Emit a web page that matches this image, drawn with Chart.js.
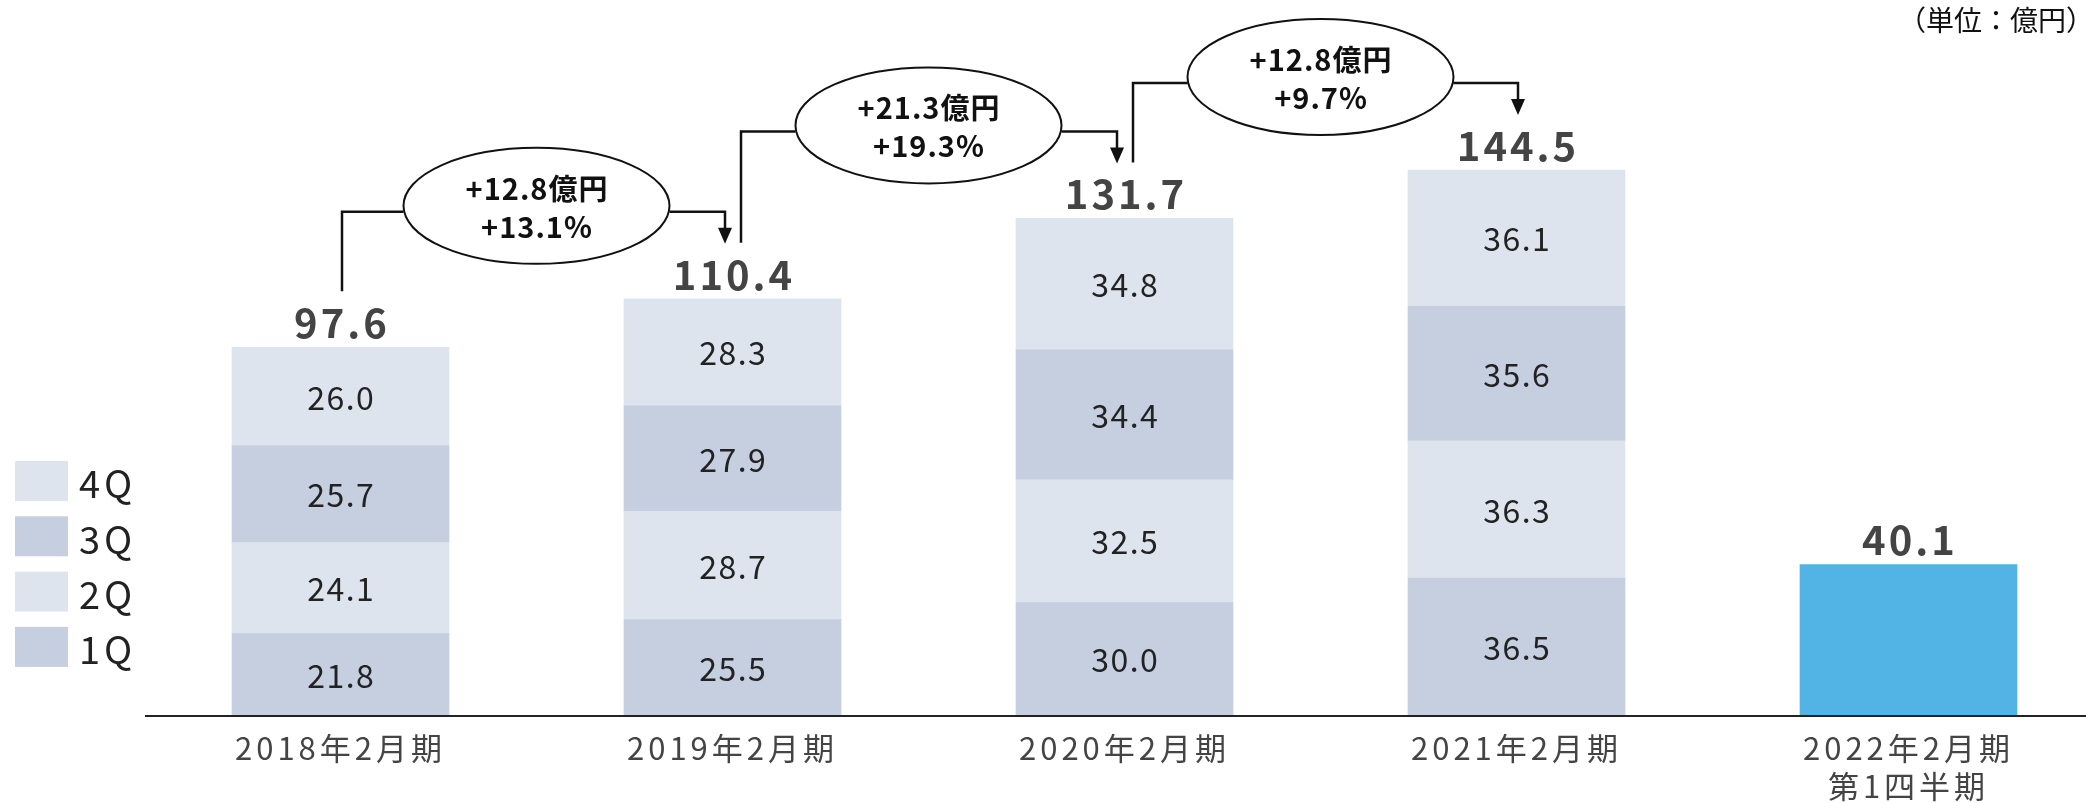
<!DOCTYPE html>
<html>
<head>
<meta charset="utf-8">
<script src="https://cdn.jsdelivr.net/npm/chart.js@4.4.1/dist/chart.umd.min.js"></script>
<style>
  html, body { margin: 0; padding: 0; background: #fff; }
</style>
</head>
<body>
<canvas id="sales" width="2086" height="803"></canvas>
<script>
// 売上高の推移（単位：億円）
const categories = [['2018年2月期'], ['2019年2月期'], ['2020年2月期'], ['2021年2月期'], ['2022年2月期', '第1四半期']]
const q1 = [21.8, 25.5, 30.0, 36.5, null]
const q2 = [24.1, 28.7, 32.5, 36.3, null]
const q3 = [25.7, 27.9, 34.4, 35.6, null]
const q4 = [26.0, 28.3, 34.8, 36.1, null]
const fy22q1 = [null, null, null, null, 40.1]
const totals = [97.6, 110.4, 131.7, 144.5, 40.1]
const growthAmount = ['+12.8億円', '+21.3億円', '+12.8億円']
const growthRate = ['+13.1%', '+19.3%', '+9.7%']
const unitLabel = '（単位：億円）'

const FONT = '"Noto Sans CJK JP", "Noto Sans", sans-serif'
const DARK = '#c5cfe0'
const LIGHT = '#dee4ee'

// centred text with extra tracking, shifted back by half the trailing space
function spaced(ctx, text, x, y, ls) {
    ctx.letterSpacing = ls + 'px'
    ctx.fillText(text, x + ls / 2, y)
}

const labelsPlugin = {
    id: 'labels',
    beforeDraw(chart) {
        // wider tracking for the category labels drawn by the x axis
        chart.ctx.letterSpacing = '4px'
    },
    afterDatasetsDraw(chart) {
        const ctx = chart.ctx
        const x = chart.scales.x
        const y = chart.scales.y
        ctx.save()

        // axis line
        const y0 = y.getPixelForValue(0)
        ctx.strokeStyle = '#222'
        ctx.lineWidth = 2
        ctx.beginPath()
        ctx.moveTo(145, y0)
        ctx.lineTo(chart.width, y0)
        ctx.stroke()

        // values inside the quarter segments
        ctx.textAlign = 'center'
        ctx.textBaseline = 'middle'
        ctx.font = '32px ' + FONT
        ctx.fillStyle = '#222'
        for (let d = 0; d < 4; d++) {
            const meta = chart.getDatasetMeta(d)
            meta.data.forEach((bar, i) => {
                const v = chart.data.datasets[d].data[i]
                if (v == null) return
                spaced(ctx, v.toFixed(1), bar.x, (bar.y + bar.base) / 2 + 1, 1.5)
            })
        }

        // totals above bars
        ctx.font = 'bold 40px ' + FONT
        ctx.fillStyle = '#444'
        ctx.textBaseline = 'alphabetic'
        totals.forEach((t, i) => {
            spaced(ctx, t.toFixed(1), x.getPixelForValue(i), y.getPixelForValue(t) - 9, 3)
        })

        // growth connectors
        ctx.strokeStyle = '#111'
        ctx.fillStyle = '#111'
        ctx.lineWidth = 2.5
        for (let i = 0; i < growthAmount.length; i++) {
            const topA = y.getPixelForValue(totals[i])
            const topB = y.getPixelForValue(totals[i + 1])
            const xa = x.getPixelForValue(i) + (i === 0 ? 1.5 : 8.5)
            const xb = x.getPixelForValue(i + 1) + (i === growthAmount.length - 1 ? 1.5 : -7.5)
            const level = topB - 87
            const tip = topB - 55
            const cx = (x.getPixelForValue(i) + x.getPixelForValue(i + 1)) / 2
            const cy = level - 6
            const rx = 133, ry = 58

            ctx.beginPath()
            ctx.moveTo(xa, topA - 56)
            ctx.lineTo(xa, level)
            ctx.lineTo(cx - rx, level)
            ctx.moveTo(cx + rx, level)
            ctx.lineTo(xb, level)
            ctx.lineTo(xb, tip - 14)
            ctx.stroke()

            ctx.beginPath()
            ctx.moveTo(xb - 7, tip - 16)
            ctx.lineTo(xb + 7, tip - 16)
            ctx.lineTo(xb, tip)
            ctx.closePath()
            ctx.fill()

            ctx.beginPath()
            ctx.fillStyle = '#fff'
            ctx.ellipse(cx, cy, rx, ry, 0, 0, Math.PI * 2)
            ctx.fill()
            ctx.lineWidth = 2
            ctx.stroke()
            ctx.lineWidth = 2.5

            ctx.fillStyle = '#111'
            ctx.font = 'bold 29px ' + FONT
            ctx.textBaseline = 'middle'
            spaced(ctx, growthAmount[i], cx, cy - 17, 1)
            spaced(ctx, growthRate[i], cx, cy + 21, 1)
        }

        // legend, 4Q on top
        ctx.textAlign = 'left'
        ctx.font = '38px ' + FONT
        ctx.letterSpacing = '4px'
        const legendSets = [3, 2, 1, 0]
        legendSets.forEach((d, k) => {
            const ds = chart.data.datasets[d]
            const top = 461 + k * 55.3
            ctx.fillStyle = ds.backgroundColor
            ctx.fillRect(15, top, 53, 40)
            ctx.fillStyle = '#222'
            ctx.fillText(ds.label, 79, top + 23)
        })

        // unit
        ctx.letterSpacing = '0px'
        ctx.textAlign = 'right'
        ctx.textBaseline = 'top'
        ctx.font = '28px ' + FONT
        ctx.fillStyle = '#111'
        ctx.fillText(unitLabel, chart.width + 8, 6)

        ctx.restore()
    }
}

const ctx = document.getElementById('sales')
const chart = new Chart(ctx, {
    type: 'bar',
    data: {
        labels: categories,
        datasets: [
            { label: '1Q', data: q1, backgroundColor: DARK },
            { label: '2Q', data: q2, backgroundColor: LIGHT },
            { label: '3Q', data: q3, backgroundColor: DARK },
            { label: '4Q', data: q4, backgroundColor: LIGHT },
            { label: '2022年2月期第1四半期', data: fy22q1, backgroundColor: '#52b3e5' }
        ]
    },
    options: {
        responsive: false,
        animation: false,
        devicePixelRatio: 1,
        layout: {
            padding: { left: 340.5, right: 177.5, top: 17, bottom: 0 }
        },
        datasets: {
            bar: { barThickness: 217, clip: false, borderWidth: 0 }
        },
        plugins: {
            legend: { display: false },
            tooltip: { enabled: false }
        },
        scales: {
            x: {
                stacked: true,
                offset: false,
                grid: { display: false, drawTicks: false },
                border: { display: false },
                ticks: {
                    color: '#444',
                    font: { size: 31, family: FONT },
                    padding: 14,
                    maxRotation: 0,
                    autoSkip: false
                },
                afterFit(scale) { scale.height = 87 }
            },
            y: {
                stacked: true,
                display: false,
                min: 0,
                max: 185
            }
        }
    },
    plugins: [labelsPlugin]
})
</script>
</body>
</html>
